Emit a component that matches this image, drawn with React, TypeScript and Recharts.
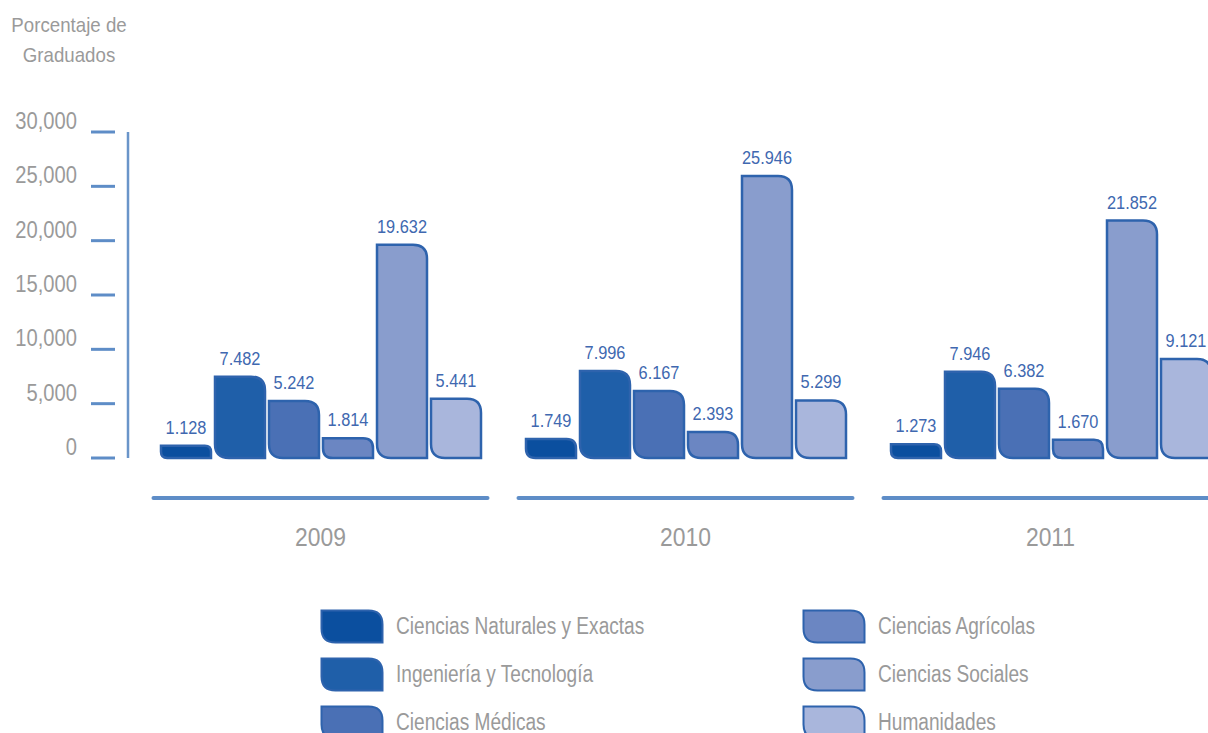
import React from "react";
import { BarChart, Bar, XAxis, YAxis, LabelList } from "recharts";

const years = ["2009", "2010", "2011"];
const naturales = [1128, 1749, 1273];
const ingenieria = [7482, 7996, 7946];
const medicas = [5242, 6167, 6382];
const agricolas = [1814, 2393, 1670];
const sociales = [19632, 25946, 21852];
const humanidades = [5441, 5299, 9121];
const yTicks = [0, 5000, 10000, 15000, 20000, 25000, 30000];

const series = [
  { key: "naturales", name: "Ciencias Naturales y Exactas", values: naturales, color: "#0b4f9f" },
  { key: "ingenieria", name: "Ingeniería y Tecnología", values: ingenieria, color: "#1f5fa9" },
  { key: "medicas", name: "Ciencias Médicas", values: medicas, color: "#4a70b5" },
  { key: "agricolas", name: "Ciencias Agrícolas", values: agricolas, color: "#6b86c2" },
  { key: "sociales", name: "Ciencias Sociales", values: sociales, color: "#899dcd" },
  { key: "humanidades", name: "Humanidades", values: humanidades, color: "#a9b6dc" },
];

const data = years.map((year, i) => {
  const row: Record<string, string | number> = { year };
  series.forEach((s) => (row[s.key] = s.values[i]));
  return row;
});

const FONT = "'Liberation Sans', Arial, sans-serif";
const GREY = "#9a9a9a";
const LINE_BLUE = "#5e8dc7";
const STROKE = "#2e63ad";

// leaf shaped bar: rounded top-right and bottom-left corners
function leafPath(x: number, y: number, w: number, h: number, r0: number) {
  const r = Math.max(0, Math.min(r0, h / 2, w / 2));
  return `M${x},${y} L${x + w - r},${y} Q${x + w},${y} ${x + w},${y + r} L${x + w},${y + h} L${x + r},${y + h} Q${x},${y + h} ${x},${y + h - r} Z`;
}

const LeafBar = (props: any) => {
  const { x, y, width, height, fill } = props;
  if (!height || height <= 0) return null;
  return <path d={leafPath(x, y, width, height, 14)} fill={fill} stroke={STROKE} strokeWidth={2.5} />;
};

// condensed look: squeeze text horizontally
const Narrow = ({ x, y, sx, anchor, size, color, children }: any) => (
  <text transform={`translate(${x},${y}) scale(${sx},1)`} textAnchor={anchor} fontSize={size} fill={color} fontFamily={FONT}>
    {children}
  </text>
);

const YTick = (props: any) => {
  const { x, y, payload } = props;
  return (
    <g>
      <Narrow x={x - 51} y={y - 3} sx={0.84} anchor="end" size={24} color={GREY}>
        {Number(payload.value).toLocaleString("en-US")}
      </Narrow>
      <line x1={x - 37} x2={x - 13} y1={y} y2={y} stroke={LINE_BLUE} strokeWidth={3} />
    </g>
  );
};

const XTick = (props: any) => {
  const { x, y, payload } = props;
  return (
    <g>
      <line x1={x - 167} x2={x + 167} y1={y + 40} y2={y + 40} stroke={LINE_BLUE} strokeWidth={4} strokeLinecap="round" />
      <Narrow x={x} y={y + 88} sx={0.88} anchor="middle" size={26} color={GREY}>
        {payload.value}
      </Narrow>
    </g>
  );
};

const fmtValue = (v: any) => Number(v).toLocaleString("en-US").replace(",", ".");

const ValueLabel = (props: any) => {
  const { x, y, width, value } = props;
  return (
    <Narrow x={x + width / 2} y={y - 12} sx={0.86} anchor="middle" size={19} color="#4068b0">
      {fmtValue(value)}
    </Narrow>
  );
};

function LegendIcon({ color }: { color: string }) {
  return (
    <svg width={64} height={35} style={{ display: "block" }}>
      <path d={leafPath(1.5, 1.5, 61, 32, 14)} fill={color} stroke={STROKE} strokeWidth={2} />
    </svg>
  );
}

const narrowSpan = (sx: number): React.CSSProperties => ({
  display: "inline-block",
  whiteSpace: "nowrap",
  transform: `scaleX(${sx})`,
  transformOrigin: "left center",
});

export default function App() {
  const cols = [series.slice(0, 3), series.slice(3)];
  return (
    <div style={{ position: "absolute", left: 0, top: 0, width: 1208, height: 733, overflow: "hidden", background: "#fff" }}>
      <div style={{ position: "absolute", left: 0, top: 10, width: 138, textAlign: "center", fontFamily: FONT, fontSize: 21, lineHeight: "30px", color: GREY }}>
        <div style={{ transform: "scaleX(0.89)" }}>Porcentaje de</div>
        <div style={{ transform: "scaleX(0.89)" }}>Graduados</div>
      </div>
      <BarChart width={1240} height={580} data={data} margin={{ top: 132, right: 7, bottom: 0, left: 0 }} barSize={50} barGap={4}>
        <XAxis dataKey="year" height={122} axisLine={false} tickLine={false} tickSize={0} tickMargin={0} padding={{ left: 10, right: 0 }} tick={<XTick />} interval={0} />
        <YAxis width={128} domain={[0, 30000]} ticks={yTicks} axisLine={{ stroke: "#6a95c9", strokeWidth: 2.5 }} tickLine={false} tickSize={0} tickMargin={0} tick={<YTick />} interval={0} />
        {series.map((s) => (
          <Bar key={s.key} dataKey={s.key} name={s.name} fill={s.color} shape={<LeafBar />} isAnimationActive={false}>
            <LabelList dataKey={s.key} content={<ValueLabel />} />
          </Bar>
        ))}
      </BarChart>
      {cols.map((col, ci) => (
        <div key={ci} style={{ position: "absolute", left: ci === 0 ? 320 : 802, top: 602 }}>
          {col.map((s) => (
            <div key={s.key} style={{ display: "flex", alignItems: "center", height: 48 }}>
              <LegendIcon color={s.color} />
              <span style={{ marginLeft: 12, fontFamily: FONT, fontSize: 23, color: GREY, ...narrowSpan(0.83) }}>{s.name}</span>
            </div>
          ))}
        </div>
      ))}
    </div>
  );
}
